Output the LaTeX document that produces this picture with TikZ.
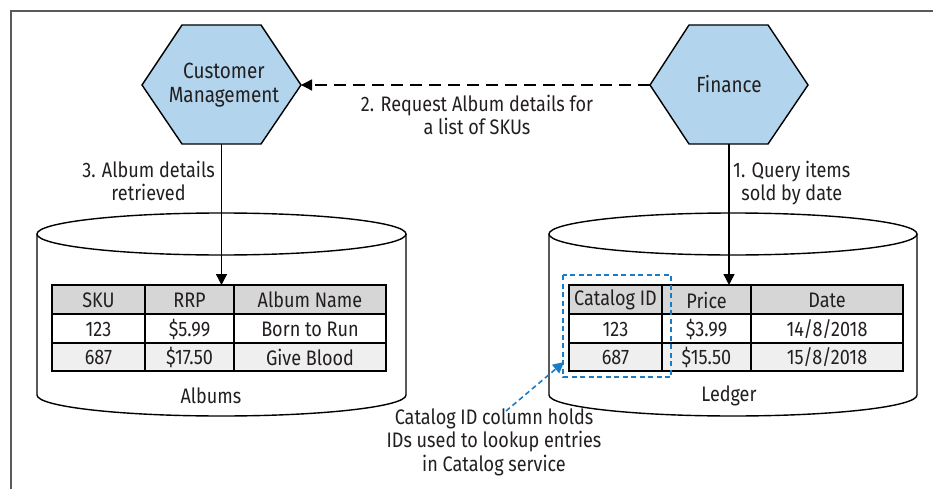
\documentclass[tikz,border=0pt]{standalone}
\usepackage{fontspec}
\setmainfont{Fira Sans}[FakeStretch=0.86]
\usetikzlibrary{arrows.meta}
\definecolor{hexblue}{HTML}{B2D4EC}
\definecolor{hdrgray}{HTML}{D6D6D6}
\definecolor{rowgray}{HTML}{EFEFEF}
\definecolor{noteblue}{HTML}{1B7BC4}
\definecolor{txt}{HTML}{231F20}
\definecolor{framegray}{HTML}{5A5A5A}
\tikzset{
  hexline/.style={draw=black, line width=1.4pt, fill=hexblue, line join=miter},
  label/.style={font=\fontsize{21}{23.5}\selectfont, text=txt, align=center, inner sep=0pt},
  hextxt/.style={font=\fontsize{22}{24}\selectfont, text=txt, align=center, inner sep=0pt},
  celltxt/.style={font=\fontsize{21}{22}\selectfont, text=txt, inner sep=0pt},
  conn/.style={draw=black, line width=1.4pt},
  tip/.style={-{Triangle[length=11pt,width=11pt]}},
  cyl/.style={draw=black, line width=1.4pt, fill=white},
  grid/.style={draw=black, line width=1.4pt},
}
\begin{document}
\begin{tikzpicture}[x=1pt,y=-1pt]
\useasboundingbox (0,0) rectangle (933,489);
\fill[white] (0,0) rectangle (933,489);
% frame
\draw[framegray, line width=1.3pt] (11,489) -- (11,11) -- (933,11);

% hexagons
\draw[hexline] (142,85) -- (182,25) -- (261,25) -- (301,85) -- (261,144) -- (182,144) -- cycle;
\coordinate (cmL) at (142,85); \coordinate (cmR) at (301,85); \coordinate (cmB) at (221.5,144);
\node[hextxt] (cm) at (224,85) {Customer\\Management};
\draw[hexline] (650,85) -- (689,25) -- (768,25) -- (808,85) -- (768,144) -- (689,144) -- cycle;
\coordinate (fiL) at (650,85); \coordinate (fiB) at (729,144);
\node[hextxt] (fi) at (729,84) {Finance};

% cylinders
\draw[cyl] (37,234) -- (37,395) arc[start angle=180,end angle=360,x radius=184.5pt,y radius=21pt] -- (406,234);
\draw[cyl] (221.5,234) ellipse[x radius=184.5pt,y radius=21pt];
\node[label] (albums) at (211,396) {Albums};
\draw[cyl] (549,234) -- (549,395) arc[start angle=180,end angle=360,x radius=184pt,y radius=21pt] -- (917,234);
\draw[cyl] (733,234) ellipse[x radius=184pt,y radius=21pt];
\node[label] (ledger) at (729,396) {Ledger};

% Albums table
\fill[hdrgray] (52,285) rectangle (386,314);
\fill[rowgray] (52,343) rectangle (386,371);
\draw[grid] (52,285) rectangle (386,371);
\draw[grid] (52,314) -- (386,314) (52,343) -- (386,343);
\draw[grid] (145,285) -- (145,371) (234,285) -- (234,371);
\node[celltxt] (a11) at (98.5,300) {SKU};
\node[celltxt] (a12) at (189.5,300) {RRP};
\node[celltxt] (a13) at (310,300) {Album Name};
\node[celltxt] (a21) at (98.5,329) {123};
\node[celltxt] (a22) at (189.5,329) {\$5.99};
\node[celltxt] (a23) at (310,329) {Born to Run};
\node[celltxt] (a31) at (98.5,357) {687};
\node[celltxt] (a32) at (189.5,357) {\$17.50};
\node[celltxt] (a33) at (310,357) {Give Blood};
\coordinate (atop) at (221.5,285);

% Ledger table
\fill[hdrgray] (569,285) rectangle (903,314);
\fill[rowgray] (569,343) rectangle (903,371);
\draw[grid] (569,285) rectangle (903,371);
\draw[grid] (569,314) -- (903,314) (569,343) -- (903,343);
\draw[grid] (662,285) -- (662,371) (751,285) -- (751,371);
\node[celltxt] (l11) at (615.5,300) {Catalog ID};
\node[celltxt] (l12) at (706.5,300) {Price};
\node[celltxt] (l13) at (827,300) {Date};
\node[celltxt] (l21) at (615.5,329) {123};
\node[celltxt] (l22) at (706.5,329) {\$3.99};
\node[celltxt] (l23) at (827,329) {14/8/2018};
\node[celltxt] (l31) at (615.5,357) {687};
\node[celltxt] (l32) at (706.5,357) {\$15.50};
\node[celltxt] (l33) at (827,357) {15/8/2018};
\coordinate (ltop) at (729,285);

% connectors
\draw[conn, tip, dash pattern=on 12pt off 7pt] (fiL) -- (cmR);
\node[label] (req) at (477,115) {2. Request Album details for\\a list of SKUs};
\draw[conn, tip] (cmB) -- (atop);
\node[label, anchor=east] (ret) at (215,181) {3. Album details\\retrieved};
\draw[conn, tip] (fiB) -- (ltop);
\node[label, anchor=west] (qry) at (733,183) {1. Query items\\sold by date};

% highlight
\draw[noteblue, line width=1.6pt, dash pattern=on 5pt off 3.5pt] (563,275) rectangle (671,377);
\coordinate (hlpt) at (564,362);
\node[label] (note) at (494,442) {Catalog ID column holds\\IDs used to lookup entries\\in Catalog service};
\coordinate (nstart) at (506,411);
\draw[noteblue, line width=1.6pt, dash pattern=on 5pt off 3.5pt, -{Triangle[length=11pt,width=11pt]}] (nstart) -- (hlpt);
\end{tikzpicture}
\end{document}
